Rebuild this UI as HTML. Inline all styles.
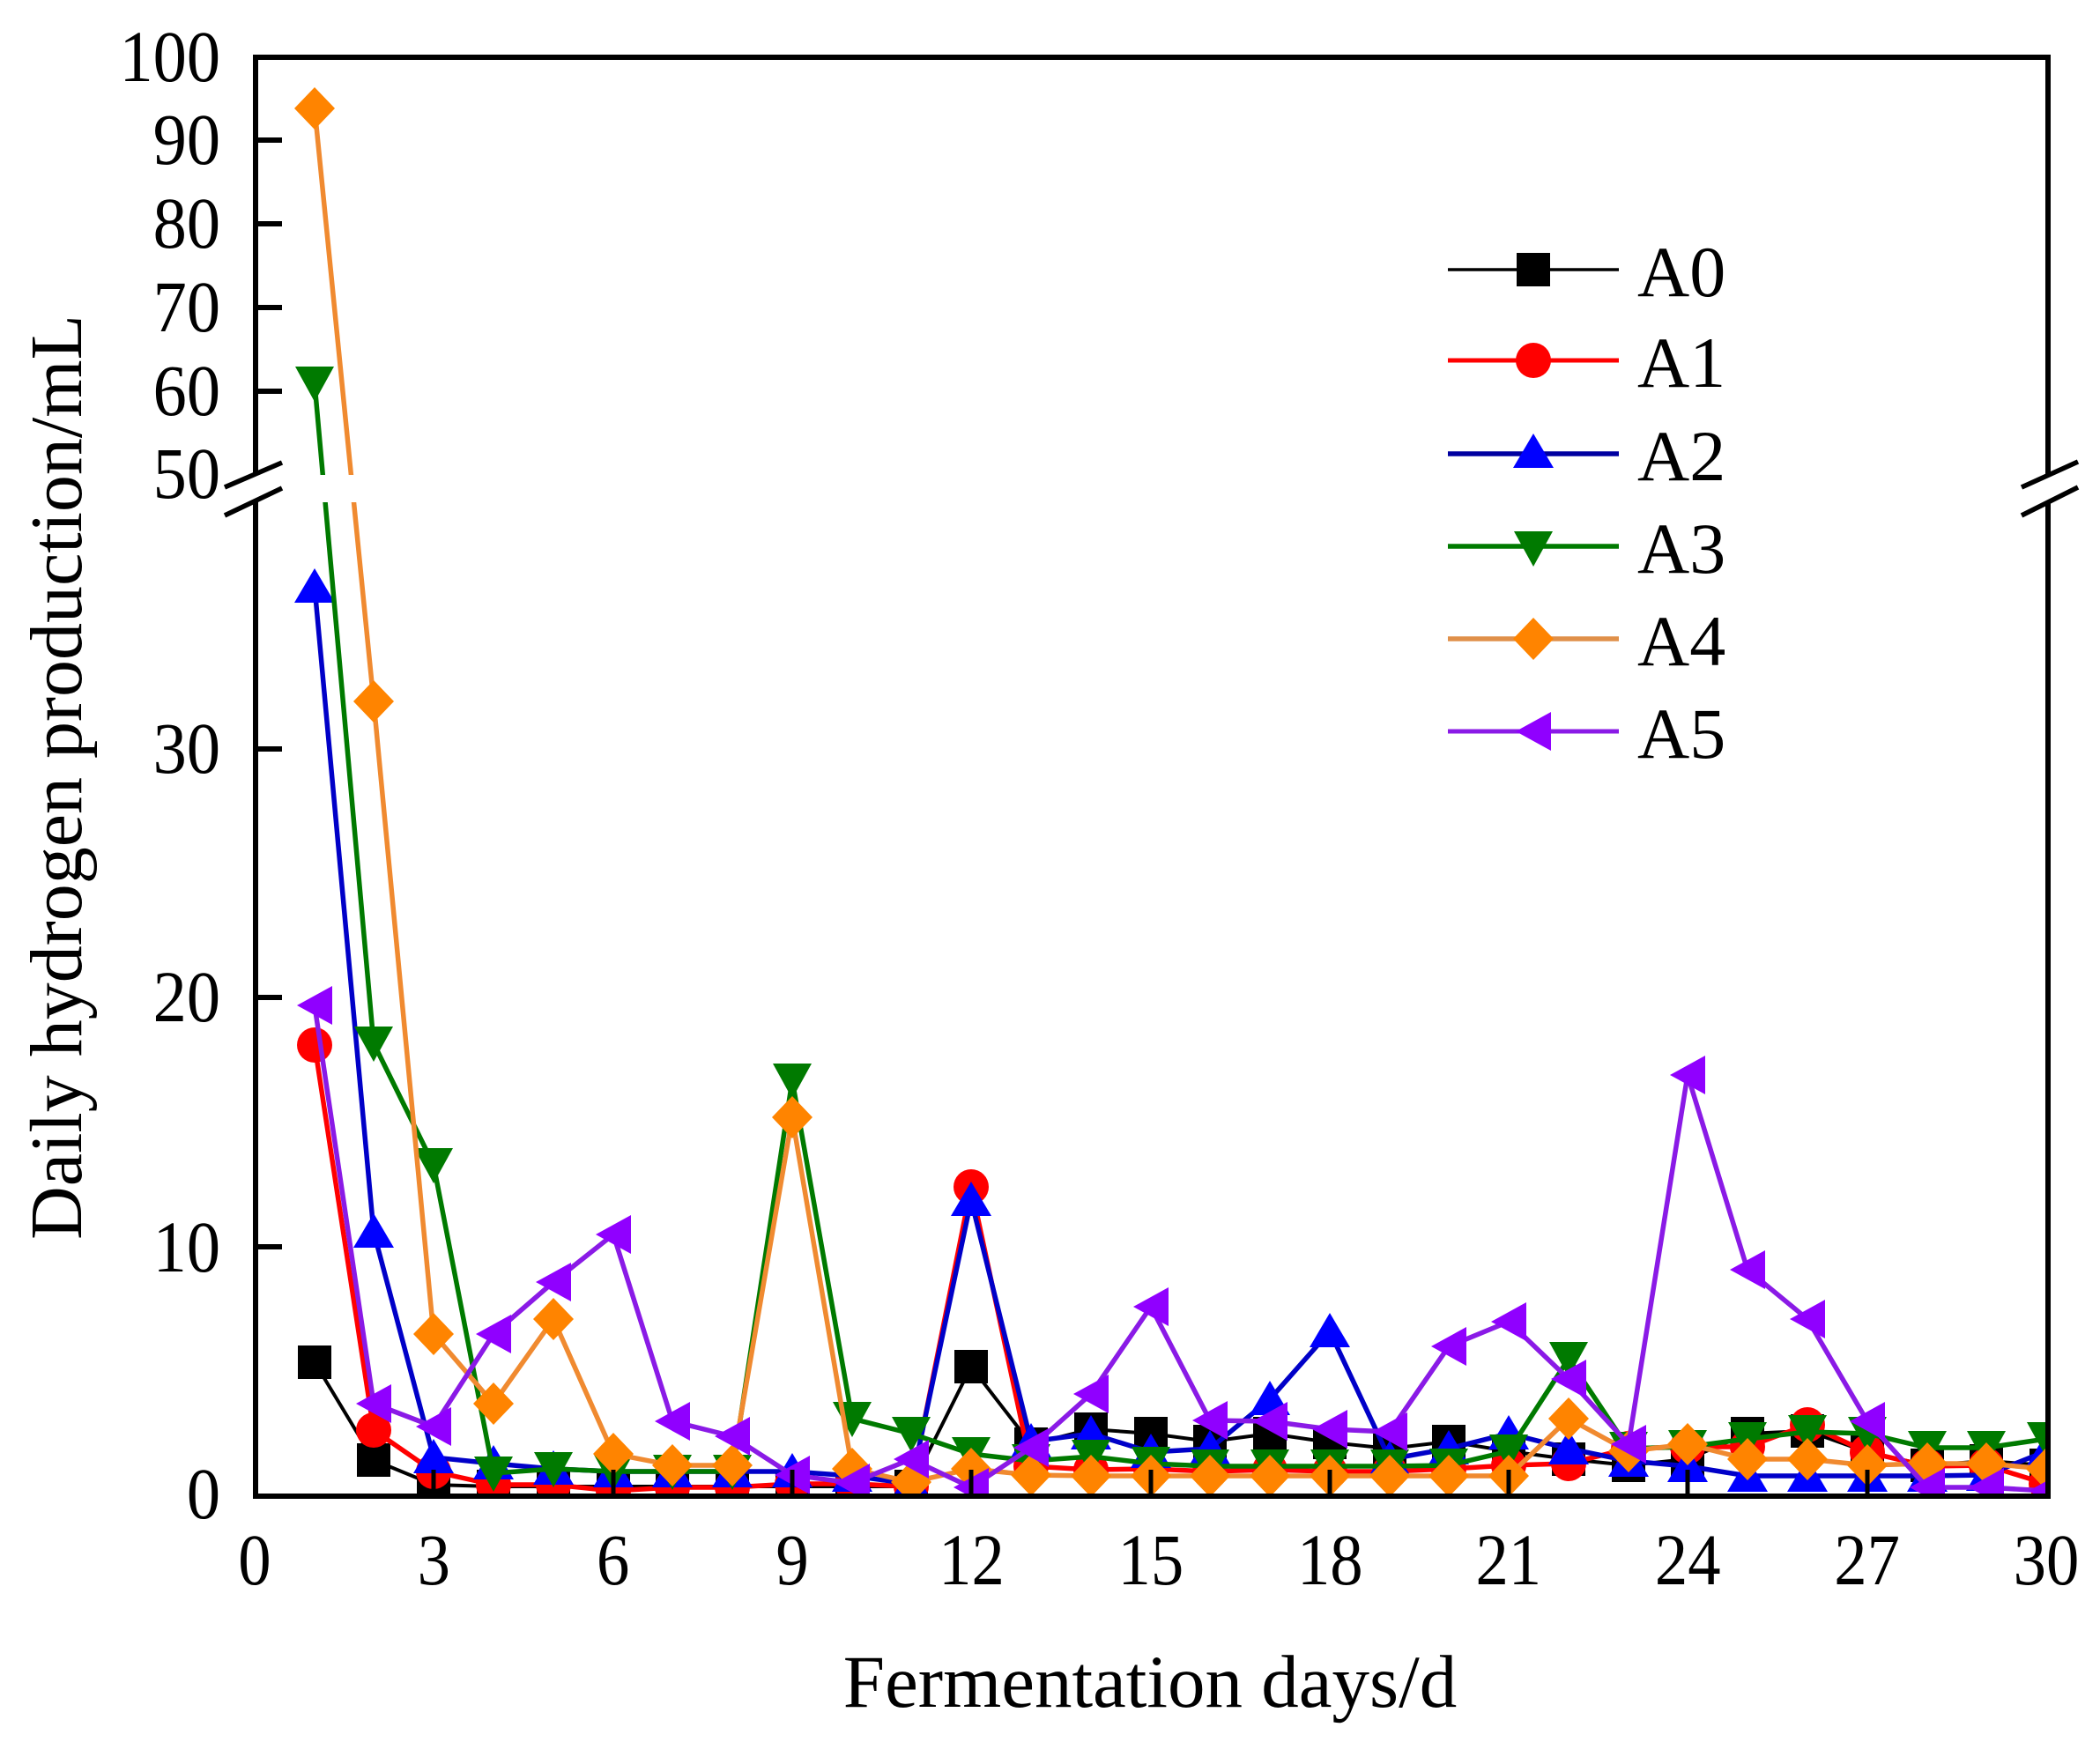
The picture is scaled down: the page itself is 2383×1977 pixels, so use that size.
<!DOCTYPE html>
<html>
<head>
<meta charset="utf-8">
<style>
  html, body { margin: 0; padding: 0; background: #ffffff; }
  svg { display: block; }
  text { font-family: "Liberation Serif", "Times New Roman", serif; fill: #000; }
</style>
</head>
<body>
<svg xmlns="http://www.w3.org/2000/svg" width="2383" height="1977" viewBox="0 0 2383 1977">
  <defs>
    <clipPath id="plot"><rect x="290" y="65" width="2034" height="1633"/></clipPath>
    <rect id="m0" x="-19" y="-19" width="38" height="38" fill="#000000"/>
    <circle id="m1" cx="0" cy="0" r="20" fill="#ff0000"/>
    <polygon id="m2" points="0,-21 23,18 -23,18" fill="#0000ff"/>
    <polygon id="m3" points="-22,-19 22,-19 0,21" fill="#007a00"/>
    <polygon id="m4" points="0,-24 23,0 0,24 -23,0" fill="#ff8400"/>
    <polygon id="m5" points="20,-22 20,22 -20,0" fill="#9000ff"/>
  </defs>

  <rect x="0" y="0" width="2383" height="1977" fill="#ffffff"/>

  <g clip-path="url(#plot)" fill="none" stroke-linejoin="miter">
    <!-- A0 -->
    <polyline stroke="#000000" stroke-width="4" points="357,1546 424,1657 492,1685 560,1687 628,1687 696,1687 763,1687 831,1687 899,1687 967,1687 1034,1687 1102,1551 1170,1639 1238,1622 1306,1627 1373,1636 1441,1627 1509,1637 1577,1644 1644,1636 1712,1647 1780,1656 1848,1663 1915,1656 1983,1627 2051,1624 2119,1648 2187,1663 2254,1658 2322,1663"/>
    <g>
      <use href="#m0" x="357" y="1546"/><use href="#m0" x="424" y="1657"/><use href="#m0" x="492" y="1685"/><use href="#m0" x="560" y="1687"/><use href="#m0" x="628" y="1687"/><use href="#m0" x="696" y="1687"/><use href="#m0" x="763" y="1687"/><use href="#m0" x="831" y="1687"/><use href="#m0" x="899" y="1687"/><use href="#m0" x="967" y="1687"/><use href="#m0" x="1034" y="1687"/><use href="#m0" x="1102" y="1551"/><use href="#m0" x="1170" y="1639"/><use href="#m0" x="1238" y="1622"/><use href="#m0" x="1306" y="1627"/><use href="#m0" x="1373" y="1636"/><use href="#m0" x="1441" y="1627"/><use href="#m0" x="1509" y="1637"/><use href="#m0" x="1577" y="1644"/><use href="#m0" x="1644" y="1636"/><use href="#m0" x="1712" y="1647"/><use href="#m0" x="1780" y="1656"/><use href="#m0" x="1848" y="1663"/><use href="#m0" x="1915" y="1656"/><use href="#m0" x="1983" y="1627"/><use href="#m0" x="2051" y="1624"/><use href="#m0" x="2119" y="1648"/><use href="#m0" x="2187" y="1663"/><use href="#m0" x="2254" y="1658"/><use href="#m0" x="2322" y="1663"/>
    </g>

    <!-- A1 -->
    <polyline stroke="#ff0000" stroke-width="5.5" points="357,1186 424,1623 492,1670 560,1685 628,1685 696,1692 763,1688 831,1688 899,1684 967,1684 1034,1687 1102,1347 1170,1664 1238,1668 1306,1667 1373,1670 1441,1668 1509,1670 1577,1670 1644,1667 1712,1663 1780,1661 1848,1644 1915,1642 1983,1642 2051,1617 2119,1648 2187,1664 2254,1663 2322,1684"/>
    <g>
      <use href="#m1" x="357" y="1186"/><use href="#m1" x="424" y="1623"/><use href="#m1" x="492" y="1670"/><use href="#m1" x="560" y="1685"/><use href="#m1" x="628" y="1685"/><use href="#m1" x="696" y="1692"/><use href="#m1" x="763" y="1688"/><use href="#m1" x="831" y="1688"/><use href="#m1" x="899" y="1684"/><use href="#m1" x="967" y="1684"/><use href="#m1" x="1034" y="1687"/><use href="#m1" x="1102" y="1347"/><use href="#m1" x="1170" y="1664"/><use href="#m1" x="1238" y="1668"/><use href="#m1" x="1306" y="1667"/><use href="#m1" x="1373" y="1670"/><use href="#m1" x="1441" y="1668"/><use href="#m1" x="1509" y="1670"/><use href="#m1" x="1577" y="1670"/><use href="#m1" x="1644" y="1667"/><use href="#m1" x="1712" y="1663"/><use href="#m1" x="1780" y="1661"/><use href="#m1" x="1848" y="1644"/><use href="#m1" x="1915" y="1642"/><use href="#m1" x="1983" y="1642"/><use href="#m1" x="2051" y="1617"/><use href="#m1" x="2119" y="1648"/><use href="#m1" x="2187" y="1664"/><use href="#m1" x="2254" y="1663"/><use href="#m1" x="2322" y="1684"/>
    </g>

    <!-- A2 -->
    <polyline stroke="#0000c8" stroke-width="5.5" points="357,666 424,1398 492,1654 560,1661 628,1667 696,1670 763,1670 831,1670 899,1670 967,1675 1034,1684 1102,1362 1170,1636 1238,1627 1306,1648 1373,1644 1441,1588 1509,1511 1577,1656 1644,1644 1712,1627 1780,1644 1848,1658 1915,1664 1983,1675 2051,1675 2119,1675 2187,1675 2254,1674 2322,1647"/>
    <g>
      <use href="#m2" x="357" y="666"/><use href="#m2" x="424" y="1398"/><use href="#m2" x="492" y="1654"/><use href="#m2" x="560" y="1661"/><use href="#m2" x="628" y="1667"/><use href="#m2" x="696" y="1670"/><use href="#m2" x="763" y="1670"/><use href="#m2" x="831" y="1670"/><use href="#m2" x="899" y="1670"/><use href="#m2" x="967" y="1675"/><use href="#m2" x="1034" y="1684"/><use href="#m2" x="1102" y="1362"/><use href="#m2" x="1170" y="1636"/><use href="#m2" x="1238" y="1627"/><use href="#m2" x="1306" y="1648"/><use href="#m2" x="1373" y="1644"/><use href="#m2" x="1441" y="1588"/><use href="#m2" x="1509" y="1511"/><use href="#m2" x="1577" y="1656"/><use href="#m2" x="1644" y="1644"/><use href="#m2" x="1712" y="1627"/><use href="#m2" x="1780" y="1644"/><use href="#m2" x="1848" y="1658"/><use href="#m2" x="1915" y="1664"/><use href="#m2" x="1983" y="1675"/><use href="#m2" x="2051" y="1675"/><use href="#m2" x="2119" y="1675"/><use href="#m2" x="2187" y="1675"/><use href="#m2" x="2254" y="1674"/><use href="#m2" x="2322" y="1647"/>
    </g>

    <!-- A3 -->
    <polyline stroke="#007a00" stroke-width="5.5" points="357,435 424,1184 492,1322 560,1672 628,1667 696,1670 763,1670 831,1670 899,1226 967,1610 1034,1627 1102,1650 1170,1658 1238,1653 1306,1661 1373,1664 1441,1664 1509,1664 1577,1664 1644,1663 1712,1647 1780,1542 1848,1644 1915,1642 1983,1633 2051,1625 2119,1627 2187,1643 2254,1643 2322,1633"/>
    <g>
      <use href="#m3" x="357" y="435"/><use href="#m3" x="424" y="1184"/><use href="#m3" x="492" y="1322"/><use href="#m3" x="560" y="1672"/><use href="#m3" x="628" y="1667"/><use href="#m3" x="696" y="1670"/><use href="#m3" x="763" y="1670"/><use href="#m3" x="831" y="1670"/><use href="#m3" x="899" y="1226"/><use href="#m3" x="967" y="1610"/><use href="#m3" x="1034" y="1627"/><use href="#m3" x="1102" y="1650"/><use href="#m3" x="1170" y="1658"/><use href="#m3" x="1238" y="1653"/><use href="#m3" x="1306" y="1661"/><use href="#m3" x="1373" y="1664"/><use href="#m3" x="1441" y="1664"/><use href="#m3" x="1509" y="1664"/><use href="#m3" x="1577" y="1664"/><use href="#m3" x="1644" y="1663"/><use href="#m3" x="1712" y="1647"/><use href="#m3" x="1780" y="1542"/><use href="#m3" x="1848" y="1644"/><use href="#m3" x="1915" y="1642"/><use href="#m3" x="1983" y="1633"/><use href="#m3" x="2051" y="1625"/><use href="#m3" x="2119" y="1627"/><use href="#m3" x="2187" y="1643"/><use href="#m3" x="2254" y="1643"/><use href="#m3" x="2322" y="1633"/>
    </g>

    <!-- A4 -->
    <polyline stroke="#f08a30" stroke-width="5.5" points="357,123 424,796 492,1514 560,1593 628,1497 696,1650 763,1663 831,1663 899,1268 967,1667 1034,1682 1102,1667 1170,1674 1238,1675 1306,1675 1373,1675 1441,1675 1509,1675 1577,1675 1644,1675 1712,1675 1780,1610 1848,1647 1915,1639 1983,1656 2051,1656 2119,1663 2187,1661 2254,1661 2322,1667"/>
    <g>
      <use href="#m4" x="357" y="123"/><use href="#m4" x="424" y="796"/><use href="#m4" x="492" y="1514"/><use href="#m4" x="560" y="1593"/><use href="#m4" x="628" y="1497"/><use href="#m4" x="696" y="1650"/><use href="#m4" x="763" y="1663"/><use href="#m4" x="831" y="1663"/><use href="#m4" x="899" y="1268"/><use href="#m4" x="967" y="1667"/><use href="#m4" x="1034" y="1682"/><use href="#m4" x="1102" y="1667"/><use href="#m4" x="1170" y="1674"/><use href="#m4" x="1238" y="1675"/><use href="#m4" x="1306" y="1675"/><use href="#m4" x="1373" y="1675"/><use href="#m4" x="1441" y="1675"/><use href="#m4" x="1509" y="1675"/><use href="#m4" x="1577" y="1675"/><use href="#m4" x="1644" y="1675"/><use href="#m4" x="1712" y="1675"/><use href="#m4" x="1780" y="1610"/><use href="#m4" x="1848" y="1647"/><use href="#m4" x="1915" y="1639"/><use href="#m4" x="1983" y="1656"/><use href="#m4" x="2051" y="1656"/><use href="#m4" x="2119" y="1663"/><use href="#m4" x="2187" y="1661"/><use href="#m4" x="2254" y="1661"/><use href="#m4" x="2322" y="1667"/>
    </g>

    <!-- A5 -->
    <polyline stroke="#8a1ae6" stroke-width="5.5" points="357,1141 424,1593 492,1619 560,1514 628,1455 696,1401 763,1613 831,1630 899,1674 967,1683 1034,1656 1102,1688 1170,1643 1238,1582 1306,1483 1373,1612 1441,1613 1509,1622 1577,1625 1644,1528 1712,1500 1780,1565 1848,1639 1915,1220 1983,1441 2051,1497 2119,1613 2187,1688 2254,1688 2322,1692"/>
    <g>
      <use href="#m5" x="357" y="1141"/><use href="#m5" x="424" y="1593"/><use href="#m5" x="492" y="1619"/><use href="#m5" x="560" y="1514"/><use href="#m5" x="628" y="1455"/><use href="#m5" x="696" y="1401"/><use href="#m5" x="763" y="1613"/><use href="#m5" x="831" y="1630"/><use href="#m5" x="899" y="1674"/><use href="#m5" x="967" y="1683"/><use href="#m5" x="1034" y="1656"/><use href="#m5" x="1102" y="1688"/><use href="#m5" x="1170" y="1643"/><use href="#m5" x="1238" y="1582"/><use href="#m5" x="1306" y="1483"/><use href="#m5" x="1373" y="1612"/><use href="#m5" x="1441" y="1613"/><use href="#m5" x="1509" y="1622"/><use href="#m5" x="1577" y="1625"/><use href="#m5" x="1644" y="1528"/><use href="#m5" x="1712" y="1500"/><use href="#m5" x="1780" y="1565"/><use href="#m5" x="1848" y="1639"/><use href="#m5" x="1915" y="1220"/><use href="#m5" x="1983" y="1441"/><use href="#m5" x="2051" y="1497"/><use href="#m5" x="2119" y="1613"/><use href="#m5" x="2187" y="1688"/><use href="#m5" x="2254" y="1688"/><use href="#m5" x="2322" y="1692"/>
    </g>
  </g>

  <!-- axes frame -->
  <rect x="290" y="65" width="2034" height="1633" fill="none" stroke="#000" stroke-width="6"/>

  <!-- y ticks -->
  <g stroke="#000" stroke-width="6">
    <line x1="290" y1="159" x2="320" y2="159"/>
    <line x1="290" y1="254" x2="320" y2="254"/>
    <line x1="290" y1="349" x2="320" y2="349"/>
    <line x1="290" y1="444" x2="320" y2="444"/>
    <line x1="290" y1="850" x2="320" y2="850"/>
    <line x1="290" y1="1132" x2="320" y2="1132"/>
    <line x1="290" y1="1415" x2="320" y2="1415"/>
  </g>
  <!-- x ticks -->
  <g stroke="#000" stroke-width="5">
    <line x1="492" y1="1698" x2="492" y2="1668"/>
    <line x1="696" y1="1698" x2="696" y2="1668"/>
    <line x1="899" y1="1698" x2="899" y2="1668"/>
    <line x1="1102" y1="1698" x2="1102" y2="1668"/>
    <line x1="1306" y1="1698" x2="1306" y2="1668"/>
    <line x1="1509" y1="1698" x2="1509" y2="1668"/>
    <line x1="1712" y1="1698" x2="1712" y2="1668"/>
    <line x1="1915" y1="1698" x2="1915" y2="1668"/>
    <line x1="2119" y1="1698" x2="2119" y2="1668"/>
  </g>

  <!-- axis break gap -->
  <rect x="240" y="539" width="2140" height="31" fill="#ffffff"/>
  <g stroke="#000" stroke-width="5.5">
    <line x1="255" y1="553" x2="320" y2="525"/>
    <line x1="255" y1="585" x2="320" y2="554"/>
    <line x1="2294" y1="553" x2="2358" y2="524"/>
    <line x1="2294" y1="585" x2="2358" y2="553"/>
  </g>

  <!-- y tick labels -->
  <g transform="translate(250,0) scale(0.92,1)" font-size="83" text-anchor="end">
    <text x="0" y="92">100</text>
    <text x="0" y="186">90</text>
    <text x="0" y="281">80</text>
    <text x="0" y="376">70</text>
    <text x="0" y="471">60</text>
    <text x="0" y="565">50</text>
    <text x="0" y="877">30</text>
    <text x="0" y="1159">20</text>
    <text x="0" y="1443">10</text>
    <text x="0" y="1723">0</text>
  </g>

  <!-- x tick labels -->
  <g transform="scale(0.9,1)" font-size="83" text-anchor="middle">
    <text x="321" y="1798">0</text>
    <text x="547" y="1798">3</text>
    <text x="773" y="1798">6</text>
    <text x="999" y="1798">9</text>
    <text x="1225" y="1798">12</text>
    <text x="1451" y="1798">15</text>
    <text x="1677" y="1798">18</text>
    <text x="1902" y="1798">21</text>
    <text x="2128" y="1798">24</text>
    <text x="2354" y="1798">27</text>
    <text x="2580" y="1798">30</text>
  </g>

  <!-- axis titles -->
  <text x="1305" y="1937" font-size="85" text-anchor="middle">Fermentation days/d</text>
  <text transform="translate(92,882) rotate(-90)" font-size="84" text-anchor="middle">Daily hydrogen production/mL</text>

  <!-- legend -->
  <g>
    <line x1="1643" y1="306" x2="1837" y2="306" stroke="#000" stroke-width="3.5"/>
    <use href="#m0" x="1740" y="306"/>
    <text x="1858" y="336" font-size="82">A0</text>

    <line x1="1643" y1="409" x2="1837" y2="409" stroke="#ff0000" stroke-width="5"/>
    <use href="#m1" x="1740" y="409"/>
    <text x="1858" y="439" font-size="82">A1</text>

    <line x1="1643" y1="515" x2="1837" y2="515" stroke="#0000a0" stroke-width="5.5"/>
    <use href="#m2" x="1740" y="513"/>
    <text x="1858" y="545" font-size="82">A2</text>

    <line x1="1643" y1="620" x2="1837" y2="620" stroke="#007a00" stroke-width="5.5"/>
    <use href="#m3" x="1740" y="622"/>
    <text x="1858" y="650" font-size="82">A3</text>

    <line x1="1643" y1="725" x2="1837" y2="725" stroke="#e0904a" stroke-width="5.5"/>
    <use href="#m4" x="1740" y="725"/>
    <text x="1858" y="755" font-size="82">A4</text>

    <line x1="1643" y1="830" x2="1837" y2="830" stroke="#8a1ae6" stroke-width="5"/>
    <use href="#m5" x="1740" y="830"/>
    <text x="1858" y="860" font-size="82">A5</text>
  </g>
</svg>
</body>
</html>
